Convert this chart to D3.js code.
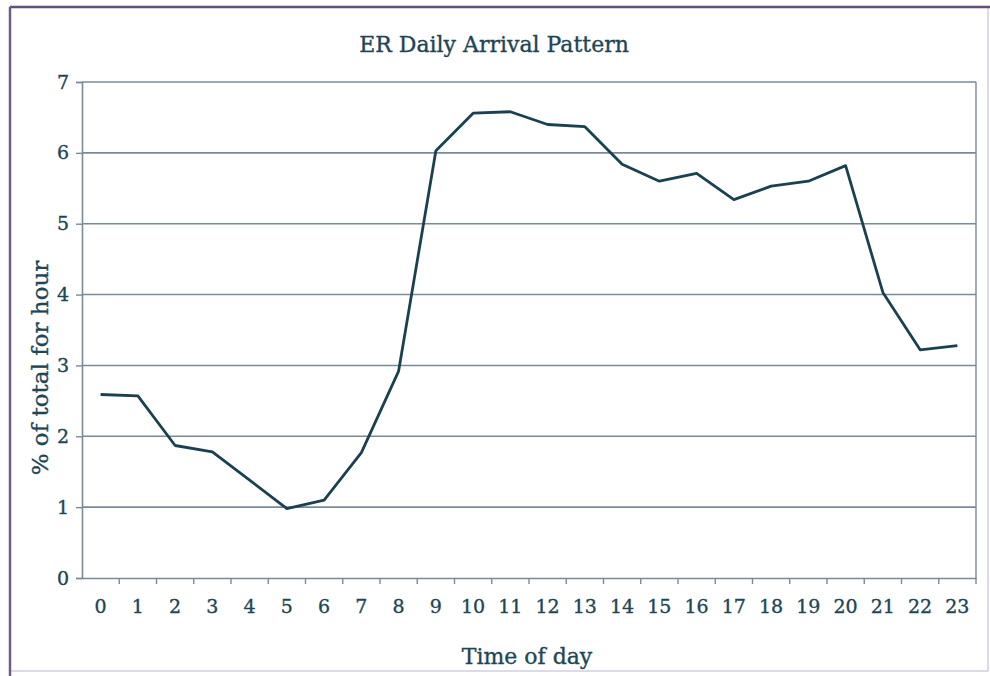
<!DOCTYPE html>
<html>
<head>
<meta charset="utf-8">
<script src="https://cdn.jsdelivr.net/npm/d3@7"></script>
<style>
  body { margin: 0; background: #fff; }
  text { font-family: "DejaVu Serif", "Liberation Serif", serif; fill: #1d4656;
         stroke: #1d4656; stroke-width: 0.35px; }
</style>
</head>
<body>
<script>
// hours of the day and share of arrivals (%)
var hours = d3.range(0, 24).map(String);
var arrivals = [2.59, 2.57, 1.87, 1.78, 1.38, 0.98, 1.1, 1.77, 2.92, 6.03,
                6.56, 6.58, 6.4, 6.37, 5.84, 5.6, 5.71, 5.34, 5.53, 5.6,
                5.82, 4.03, 3.22, 3.28];
var yTicks = [0, 1, 2, 3, 4, 5, 6, 7];

var W = 990, H = 676;
var m = {left: 82, right: 14, top: 82, bottom: 98};
var ink = "#1d4656", gridc = "#7a8a98";

var svg = d3.select("body").append("svg")
    .attr("width", W).attr("height", H);

// outer frame
svg.append("rect")
    .attr("x", 10).attr("y", 7)
    .attr("width", W - 12).attr("height", H - 12)
    .attr("fill", "none").attr("stroke", "#d3cee0").attr("stroke-width", 1.5);
svg.append("line").attr("x1", 10).attr("x2", W).attr("y1", 7).attr("y2", 7)
    .attr("stroke", "#5e4f80").attr("stroke-width", 2.5);
svg.append("line").attr("x1", 10).attr("x2", 10).attr("y1", 7).attr("y2", H)
    .attr("stroke", "#6b5c8a").attr("stroke-width", 2.5);

var x = d3.scaleBand().domain(hours).range([m.left, W - m.right]);
var y = d3.scaleLinear().domain([0, 7]).range([H - m.bottom, m.top]);

var g = svg.append("g");

// gridlines
g.selectAll("line.grid").data(yTicks.slice(1)).enter().append("line")
    .attr("class", "grid")
    .attr("x1", m.left).attr("x2", W - m.right)
    .attr("y1", function(d) { return y(d); })
    .attr("y2", function(d) { return y(d); })
    .attr("stroke", gridc).attr("stroke-width", 1.6);

// right edge of plot area
g.append("line")
    .attr("x1", W - m.right).attr("x2", W - m.right)
    .attr("y1", m.top).attr("y2", H - m.bottom)
    .attr("stroke", gridc).attr("stroke-width", 1.4);

// y axis
var yAxis = g.append("g")
    .attr("transform", "translate(" + m.left + ",0)")
    .call(d3.axisLeft(y).tickValues(yTicks).tickFormat(d3.format("d"))
        .tickSize(6).tickPadding(7));
yAxis.attr("font-family", null).attr("font-size", null);
yAxis.select(".domain").attr("stroke", gridc).attr("stroke-width", 1.6);
yAxis.selectAll(".tick line").attr("stroke", gridc).attr("stroke-width", 1.4);
yAxis.selectAll("text").style("font-size", "19px").attr("fill", ink);

// x axis, ticks on band boundaries
var xAxis = g.append("g")
    .attr("transform", "translate(0," + (H - m.bottom) + ")")
    .call(d3.axisBottom(x).tickSize(0).tickPadding(22));
xAxis.attr("font-family", null).attr("font-size", null);
xAxis.select(".domain").attr("stroke", gridc).attr("stroke-width", 1.6);
xAxis.selectAll("text").style("font-size", "19px").attr("fill", ink);
g.selectAll("line.xtick").data(hours.slice(1).concat(["end"])).enter().append("line")
    .attr("class", "xtick")
    .attr("x1", function(d) { return d === "end" ? x("23") + x.bandwidth() : x(d); })
    .attr("x2", function(d) { return d === "end" ? x("23") + x.bandwidth() : x(d); })
    .attr("y1", H - m.bottom).attr("y2", H - m.bottom + 6)
    .attr("stroke", gridc).attr("stroke-width", 1.4);

// series line
var line = d3.line()
    .x(function(d, i) { return x(hours[i]) + x.bandwidth() / 2; })
    .y(function(d) { return y(d); });
g.append("path")
    .datum(arrivals)
    .attr("d", line)
    .attr("fill", "none")
    .attr("stroke", "#1a4150")
    .attr("stroke-width", 2.8)
    .attr("stroke-linejoin", "round");

// titles
svg.append("text")
    .attr("x", 494).attr("y", 52)
    .attr("text-anchor", "middle")
    .style("font-size", "22px")
    .text("ER Daily Arrival Pattern");

svg.append("text")
    .attr("transform", "translate(48,368) rotate(-90)")
    .attr("text-anchor", "middle")
    .style("font-size", "23px")
    .text("% of total for hour");

svg.append("text")
    .attr("x", 527).attr("y", 664)
    .attr("text-anchor", "middle")
    .style("font-size", "22px")
    .text("Time of day");
</script>
</body>
</html>
